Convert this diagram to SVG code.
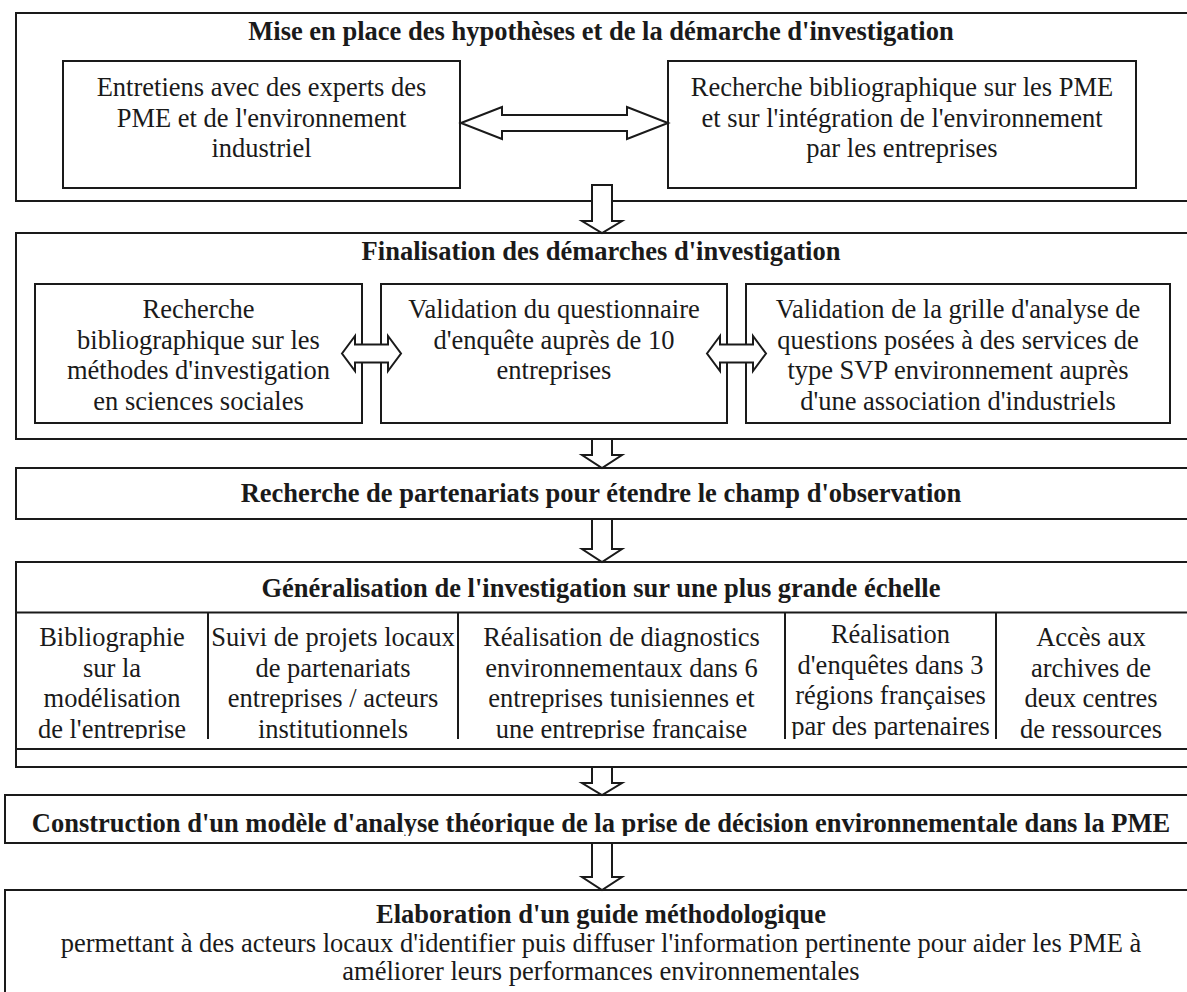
<svg xmlns="http://www.w3.org/2000/svg" width="1187" height="992" viewBox="0 0 1187 992">
<style>
.box{fill:#fff;stroke:#1a1a1a;stroke-width:2}
.ln{stroke:#1a1a1a;stroke-width:2;fill:none}
.arr{fill:#fff;stroke:#1a1a1a;stroke-width:2;stroke-linejoin:miter}
text{font-family:"Liberation Serif","Times New Roman",serif;font-size:26.5px;fill:#1a1a1a;text-anchor:middle}
.b{font-weight:bold}
</style>
<defs>
<clipPath id="cellclip"><rect x="0" y="613" width="1187" height="126"/></clipPath>
<clipPath id="c5clip"><rect x="0" y="796" width="1187" height="40"/></clipPath>
</defs>
<rect width="1187" height="992" fill="#fff"/>

<g id="phase1">
<rect class="box" x="16" y="13" width="1190" height="188"/>
<text class="b" x="601" y="40">Mise en place des hypothèses et de la démarche d'investigation</text>
</g>
<g id="entretiens">
<rect class="box" x="63" y="61" width="397" height="127"/>
<text x="261.5" y="96">Entretiens avec des experts des</text>
<text x="261.5" y="126.5">PME et de l'environnement</text>
<text x="261.5" y="157">industriel</text>
</g>
<g id="biblio-pme">
<rect class="box" x="668" y="61" width="468" height="127"/>
<text x="902" y="96">Recherche bibliographique sur les PME</text>
<text x="902" y="126.5">et sur l'intégration de l'environnement</text>
<text x="902" y="157">par les entreprises</text>
</g>

<g id="phase2">
<rect class="box" x="16" y="233" width="1190" height="206"/>
<text class="b" x="601" y="260">Finalisation des démarches d'investigation</text>
</g>
<g id="biblio-methodes">
<rect class="box" x="35" y="284" width="327" height="139"/>
<text x="198.5" y="318">Recherche</text>
<text x="198.5" y="348.5">bibliographique sur les</text>
<text x="198.5" y="379">méthodes d'investigation</text>
<text x="198.5" y="409.5">en sciences sociales</text>
</g>
<g id="questionnaire">
<rect class="box" x="381" y="284" width="346" height="139"/>
<text x="554" y="318">Validation du questionnaire</text>
<text x="554" y="348.5">d'enquête auprès de 10</text>
<text x="554" y="379">entreprises</text>
</g>
<g id="grille">
<rect class="box" x="746" y="284" width="424" height="139"/>
<text x="958" y="318">Validation de la grille d'analyse de</text>
<text x="958" y="348.5">questions posées à des services de</text>
<text x="958" y="379">type SVP environnement auprès</text>
<text x="958" y="409.5">d'une association d'industriels</text>
</g>

<g id="phase3">
<rect class="box" x="16" y="468" width="1190" height="51"/>
<text class="b" x="601" y="502">Recherche de partenariats pour étendre le champ d'observation</text>
</g>

<g id="phase4">
<rect class="box" x="16" y="562" width="1190" height="205"/>
<text class="b" x="601" y="597">Généralisation de l'investigation sur une plus grande échelle</text>
<line class="ln" x1="16" y1="612.5" x2="1190" y2="612.5"/>
<line class="ln" x1="16" y1="749" x2="1190" y2="749"/>
</g>
<g id="cell-biblio" clip-path="url(#cellclip)">
<line class="ln" x1="208" y1="612.5" x2="208" y2="749"/>
<text x="112" y="646">Bibliographie</text>
<text x="112" y="676.5">sur la</text>
<text x="112" y="707">modélisation</text>
<text x="112" y="737.5">de l'entreprise</text>
</g>
<g id="cell-suivi" clip-path="url(#cellclip)">
<line class="ln" x1="458" y1="612.5" x2="458" y2="749"/>
<text x="333" y="646">Suivi de projets locaux</text>
<text x="333" y="676.5">de partenariats</text>
<text x="333" y="707">entreprises / acteurs</text>
<text x="333" y="737.5">institutionnels</text>
</g>
<g id="cell-diagnostics" clip-path="url(#cellclip)">
<line class="ln" x1="785" y1="612.5" x2="785" y2="749"/>
<text x="621.5" y="646">Réalisation de diagnostics</text>
<text x="621.5" y="676.5">environnementaux dans 6</text>
<text x="621.5" y="707">entreprises tunisiennes et</text>
<text x="621.5" y="737.5">une entreprise française</text>
</g>
<g id="cell-enquetes" clip-path="url(#cellclip)">
<line class="ln" x1="996" y1="612.5" x2="996" y2="749"/>
<text x="890.5" y="643">Réalisation</text>
<text x="890.5" y="673.5">d'enquêtes dans 3</text>
<text x="890.5" y="704">régions françaises</text>
<text x="890.5" y="734.5">par des partenaires</text>
</g>
<g id="cell-archives" clip-path="url(#cellclip)">
<text x="1091" y="646">Accès aux</text>
<text x="1091" y="676.5">archives de</text>
<text x="1091" y="707">deux centres</text>
<text x="1091" y="737.5">de ressources</text>
</g>

<g id="phase5">
<rect class="box" x="5" y="795" width="1201" height="48"/>
<text class="b" x="601" y="832" clip-path="url(#c5clip)">Construction d'un modèle d'analyse théorique de la prise de décision environnementale dans la PME</text>
</g>

<g id="phase6">
<rect class="box" x="5" y="890" width="1201" height="120"/>
<text class="b" x="601" y="923">Elaboration d'un guide méthodologique</text>
<text x="601" y="951.5">permettant à des acteurs locaux d'identifier puis diffuser l'information pertinente pour aider les PME à</text>
<text x="601" y="980">améliorer leurs performances environnementales</text>
</g>

<g id="connectors">
<polygon class="arr" points="461,123 502,107 502,115 627,115 627,107 668,123 627,139 627,131 502,131 502,139"/>
<polygon class="arr" points="342,353.5 355,336 355,344.5 388,344.5 388,336 401,353.5 388,371 388,362.5 355,362.5 355,371"/>
<polygon class="arr" points="707,353.5 720,336 720,344.5 753,344.5 753,336 766,353.5 753,371 753,362.5 720,362.5 720,371"/>
<polygon class="arr" points="592,185 612,185 612,221 622,221 602,233 582,221 592,221"/>
<polygon class="arr" points="592,439 612,439 612,455 622,455 602,468 582,455 592,455"/>
<polygon class="arr" points="592,519 612,519 612,549 622,549 602,562 582,549 592,549"/>
<polygon class="arr" points="592,767 612,767 612,783 622,783 602,795 582,783 592,783"/>
<polygon class="arr" points="592,843 612,843 612,877 622,877 602,890 582,877 592,877"/>
</g>
</svg>
